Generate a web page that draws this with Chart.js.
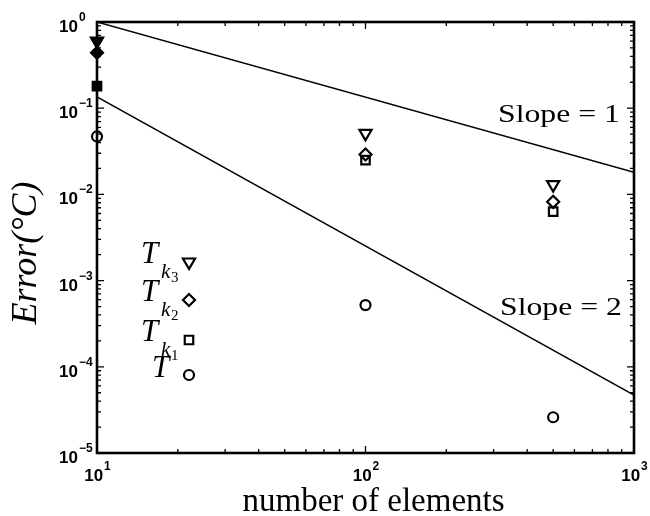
<!DOCTYPE html>
<html>
<head>
<meta charset="utf-8">
<script src="https://cdn.jsdelivr.net/npm/chart.js@4.4.0/dist/chart.umd.min.js"></script>
<style>
  html, body { margin: 0; padding: 0; background: #fff; }
  #wrap { width: 650px; height: 516px; position: relative; }
</style>
</head>
<body>
<div id="wrap"><canvas id="errorChart"></canvas></div>
<script>
// mesh sizes and the error of each temperature estimate
const elements = [10, 100, 500];
const errT   = [0.047, 5.2e-4, 2.6e-5];
const errTk1 = [0.18, 0.025, 0.0063];
const errTk2 = [0.44, 0.029, 0.0082];
const errTk3 = [0.60, 0.051, 0.013];

// reference slope lines
const slopeX = [10, 1000];
const slope1 = [1.0, 0.018];
const slope2 = [0.135, 4.7e-5];

// decade exponents labelled on each axis
const xTickExp = [1, 2, 3];
const yTickExp = [0, -1, -2, -3, -4, -5];

const serif = '"Liberation Serif", "Times New Roman", serif';
const sans = '"Liberation Sans", Arial, sans-serif';

function pts(xs, ys) {
    return xs.map((v, i) => ({ x: v, y: ys[i] }));
}

// every 1..9 x 10^k value between lo and hi
function logTicks(lo, hi) {
    const out = [];
    for (let e = Math.floor(Math.log10(lo)); e <= Math.ceil(Math.log10(hi)); e++) {
        for (let m = 1; m <= 9; m++) {
            const v = m * Math.pow(10, e);
            if (v >= lo * 0.999 && v <= hi * 1.001) out.push({ v: v, major: m === 1 });
        }
    }
    return out;
}

function marker(style, filledFirst) {
    return {
        pointStyle: style.shape,
        rotation: style.rotation || 0,
        pointRadius: style.radius,
        pointBorderWidth: 2.2,
        pointBorderColor: '#000',
        pointBackgroundColor: elements.map((e, i) => (filledFirst && i === 0) ? '#000' : 'rgba(0,0,0,0)'),
        showLine: false,
        clip: false
    };
}

const styles = {
    tk3: { shape: 'triangle', rotation: 180, radius: 7 },
    tk2: { shape: 'rectRot', radius: 6 },
    tk1: { shape: 'rect', radius: 6 },
    t:   { shape: 'circle', radius: 5 }
};

function drawPow(ctx, exp, x, y, align) {
    ctx.font = 'bold 17px ' + sans;
    const base = '10';
    const wb = ctx.measureText(base).width;
    ctx.font = 'bold 12px ' + sans;
    const es = exp < 0 ? '\u2212' + (-exp) : String(exp);
    const we = ctx.measureText(es).width;
    let left;
    if (align === 'y') left = x - wb;             // "10" right edge at x
    else left = x - (wb + we) / 2;                // whole label centred
    ctx.font = 'bold 17px ' + sans;
    ctx.fillText(base, left, y);
    ctx.font = 'bold 12px ' + sans;
    ctx.fillText(es, left + wb + 1, y - 11);
}

function stretchedText(ctx, str, x, y, font, sx) {
    ctx.save();
    ctx.translate(x, y);
    ctx.scale(sx, 1);
    ctx.font = font;
    ctx.fillText(str, 0, 0);
    ctx.restore();
}

const frame = {
    id: 'frame',
    afterDraw(chart) {
        const { ctx, chartArea: a } = chart;
        const xs = chart.scales.x, ys = chart.scales.y;
        ctx.save();
        ctx.strokeStyle = '#000';
        ctx.fillStyle = '#000';

        // inward ticks on all four sides
        ctx.lineWidth = 1.3;
        ctx.beginPath();
        logTicks(xs.min, xs.max).forEach(t => {
            const px = xs.getPixelForValue(t.v);
            const len = t.major ? 7 : 4;
            ctx.moveTo(px, a.bottom); ctx.lineTo(px, a.bottom - len);
            ctx.moveTo(px, a.top); ctx.lineTo(px, a.top + len);
        });
        logTicks(ys.min, ys.max).forEach(t => {
            const py = ys.getPixelForValue(t.v);
            const len = t.major ? 7 : 4;
            ctx.moveTo(a.left, py); ctx.lineTo(a.left + len, py);
            ctx.moveTo(a.right, py); ctx.lineTo(a.right - len, py);
        });
        ctx.stroke();

        // axes box
        ctx.lineWidth = 2.6;
        ctx.strokeRect(a.left, a.top, a.right - a.left, a.bottom - a.top);

        // tick labels
        ctx.textBaseline = 'alphabetic';
        ctx.textAlign = 'left';
        xTickExp.forEach(e => drawPow(ctx, e, xs.getPixelForValue(Math.pow(10, e)), a.bottom + 28, 'x'));
        yTickExp.forEach(e => drawPow(ctx, e, a.left - 19, ys.getPixelForValue(Math.pow(10, e)) + 10, 'y'));

        // axis titles
        ctx.textAlign = 'center';
        ctx.font = '33px ' + serif;
        ctx.fillText('number of elements', (a.left + a.right) / 2 + 8, 511);
        ctx.save();
        ctx.translate(36, 253);
        ctx.rotate(-Math.PI / 2);
        ctx.font = 'italic 36px ' + serif;
        ctx.fillText('Error(\u00B0C)', 0, 0);
        ctx.restore();

        // slope annotations
        ctx.textAlign = 'left';
        stretchedText(ctx, 'Slope = 1', 498, 122, '26px ' + serif, 1.22);
        stretchedText(ctx, 'Slope = 2', 500, 315, '26px ' + serif, 1.22);

        // legend: symbol names with their markers
        const rows = [
            { sub: '3', style: styles.tk3, y: 262 },
            { sub: '2', style: styles.tk2, y: 300 },
            { sub: '1', style: styles.tk1, y: 340 },
            { sub: null, style: styles.t, y: 375 }
        ];
        rows.forEach(r => {
            if (r.sub) {
                ctx.font = 'italic 31px ' + serif;
                ctx.fillText('T', 141, r.y + 1);
                ctx.font = 'italic 21px ' + serif;
                ctx.fillText('k', 161, r.y + 16);
                ctx.font = '15px ' + serif;
                ctx.fillText(r.sub, 171, r.y + 20);
            } else {
                ctx.font = 'italic 31px ' + serif;
                ctx.fillText('T', 152, r.y + 2);
            }
            ctx.fillStyle = 'rgba(0,0,0,0)';
            ctx.lineWidth = 2.2;
            Chart.helpers.drawPoint(ctx, {
                pointStyle: r.style.shape,
                rotation: r.style.rotation || 0,
                radius: r.style.radius,
                borderWidth: 2.2
            }, 189, r.y);
            ctx.fillStyle = '#000';
        });

        ctx.restore();
    }
};

new Chart(document.getElementById('errorChart'), {
    type: 'scatter',
    data: {
        datasets: [
            { label: 'Slope = 1', data: pts(slopeX, slope1), showLine: true, borderColor: '#000', borderWidth: 1.5, pointRadius: 0 },
            { label: 'Slope = 2', data: pts(slopeX, slope2), showLine: true, borderColor: '#000', borderWidth: 1.5, pointRadius: 0 },
            Object.assign({ label: 'Tk3', data: pts(elements, errTk3) }, marker(styles.tk3, true)),
            Object.assign({ label: 'Tk2', data: pts(elements, errTk2) }, marker(styles.tk2, true)),
            Object.assign({ label: 'Tk1', data: pts(elements, errTk1) }, marker(styles.tk1, true)),
            Object.assign({ label: 'T', data: pts(elements, errT) }, marker(styles.t, false))
        ]
    },
    options: {
        responsive: true,
        maintainAspectRatio: false,
        animation: false,
        layout: { padding: { left: 97, right: 16, top: 22, bottom: 63 } },
        plugins: { legend: { display: false }, tooltip: { enabled: false } },
        scales: {
            x: { type: 'logarithmic', min: 10, max: 1000, display: false },
            y: { type: 'logarithmic', min: 1e-5, max: 1, display: false }
        }
    },
    plugins: [frame]
});
</script>
</body>
</html>
